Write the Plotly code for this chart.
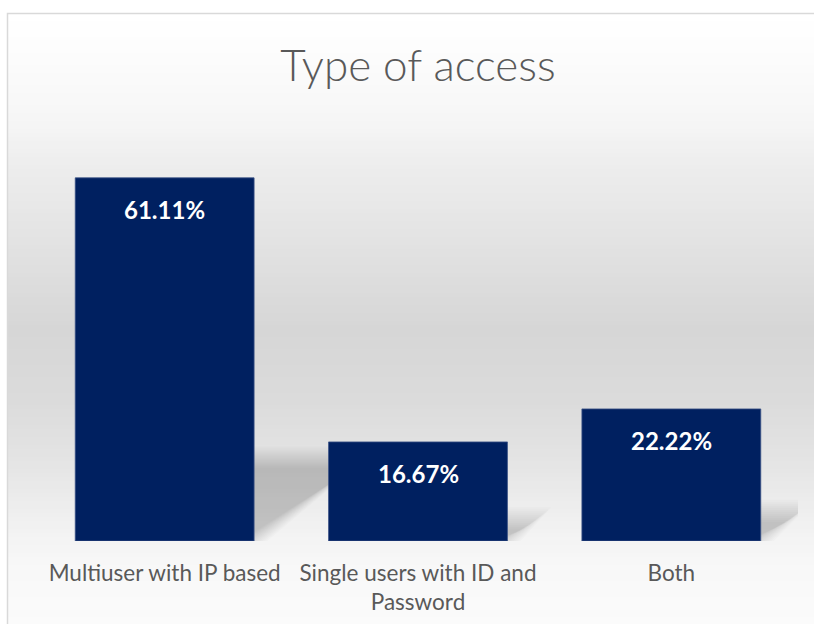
import plotly.graph_objects as go

# ---- data ----
categories = ["Multiuser with IP based", "Single users with ID and<br>Password", "Both"]
shares = [61.11, 16.67, 22.22]
label_texts = ["61.11%", "16.67%", "22.22%"]
chart_title = "Type of access"

# ---- layout geometry (pixels) ----
W, H = 814, 624
M_L, M_R, M_T, M_B = 38, 16, 125, 83
Y_MAX = 70
BAR_W = 0.706
PLOT_W = W - M_L - M_R
PLOT_H = H - M_T - M_B
PX_PER_X = PLOT_W / 3.0
PX_PER_Y = PLOT_H / Y_MAX

BAR_COLOR = "#002060"
TEXT_GREY = "#595959"
FONT = "Lato, 'Open Sans', sans-serif"


def px_to_paper_x(px):
    return (px - M_L) / PLOT_W


def px_to_paper_y(py):
    return (H - M_B - py) / PLOT_H


shapes = []

# vertical grey gradient behind the chart (white -> grey -> white)
stops = [(13, 255), (60, 252), (120, 246), (160, 238), (240, 227), (330, 214),
         (400, 219), (460, 228), (500, 236), (540, 244), (570, 248), (624, 251)]


def grey_at(py):
    for (y0, g0), (y1, g1) in zip(stops[:-1], stops[1:]):
        if y0 <= py <= y1:
            t = (py - y0) / (y1 - y0)
            return g0 + (g1 - g0) * t
    return stops[-1][1]


band = 4
py = 13
while py < H:
    g = int(round(grey_at(py + band / 2)))
    shapes.append(dict(
        type="rect", xref="paper", yref="paper", layer="below",
        x0=px_to_paper_x(7), x1=px_to_paper_x(W + 5),
        y0=px_to_paper_y(min(py + band + 0.5, H + 5)), y1=px_to_paper_y(py),
        fillcolor=f"rgb({g},{g},{g})", line=dict(width=0),
    ))
    py += band

# chart-area border
shapes.append(dict(
    type="rect", xref="paper", yref="paper", layer="below",
    x0=px_to_paper_x(7.5), x1=px_to_paper_x(W + 10),
    y0=px_to_paper_y(H + 10), y1=px_to_paper_y(13.5),
    fillcolor="rgba(0,0,0,0)", line=dict(color="#d9d9d9", width=1.5),
))

# soft perspective shadows cast to the right of each bar
BLUR = 11
N_LAYERS = 12
for i, v in enumerate(shares):
    bar_px = v * PX_PER_Y
    h_px = 0.23 * bar_px
    dx_px = 1.35 * h_px
    left = i - BAR_W / 2
    right = i + BAR_W / 2
    for k in range(N_LAYERS):
        grow = BLUR - 2 * BLUR * k / (N_LAYERS - 1)
        top = max(h_px + grow, 1.5) / PX_PER_Y
        shift = grow * 1.2 / PX_PER_X
        off = dx_px / PX_PER_X
        path = (f"M {left},0 L {right + shift},0 "
                f"L {right + off + shift},{top} L {left + off},{top} Z")
        shapes.append(dict(
            type="path", xref="x", yref="y", layer="below", path=path,
            fillcolor="rgba(0,0,0,0.017)", line=dict(width=0),
        ))

fig = go.Figure()
fig.add_trace(go.Bar(
    x=list(range(len(categories))), y=shares, width=BAR_W,
    marker=dict(color=BAR_COLOR, line=dict(color="#3a5285", width=0.8)),
    hoverinfo="skip",
))

annotations = []
for i, (v, t) in enumerate(zip(shares, label_texts)):
    annotations.append(dict(
        x=i, y=v, xref="x", yref="y", text=f"<b>{t}</b>", showarrow=False,
        yanchor="middle", yshift=-32,
        font=dict(family=FONT, size=24, color="white"),
    ))

fig.update_layout(
    width=W, height=H,
    margin=dict(l=M_L, r=M_R, t=M_T, b=M_B, pad=0, autoexpand=False),
    paper_bgcolor="white", plot_bgcolor="rgba(0,0,0,0)",
    showlegend=False,
    title=dict(
        text=chart_title, x=418 / W, xanchor="center", y=1 - 66 / H, yanchor="middle",
        font=dict(family=FONT, size=44, color=TEXT_GREY, weight=300),
    ),
    xaxis=dict(
        range=[-0.5, 2.5], tickvals=list(range(len(categories))), ticktext=categories,
        showgrid=False, zeroline=False, showline=False, automargin=False,
        ticks="outside", ticklen=12, tickcolor="rgba(0,0,0,0)",
        tickfont=dict(family=FONT, size=22.5, color=TEXT_GREY),
        fixedrange=True,
    ),
    yaxis=dict(range=[0, Y_MAX], visible=False, fixedrange=True, automargin=False),
    shapes=shapes,
    annotations=annotations,
)

fig.write_html("out.html")
